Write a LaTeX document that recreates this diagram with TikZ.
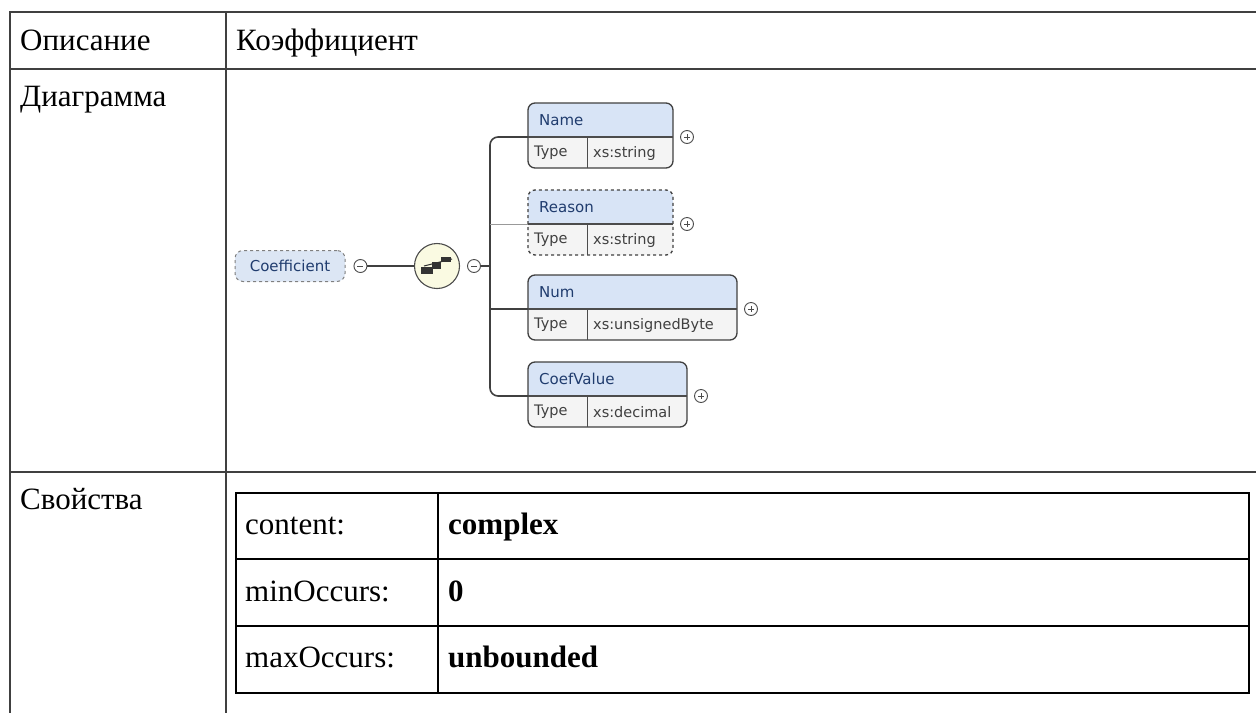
\documentclass[tikz,border=0pt]{standalone}
\usepackage{fontspec}
\setmainfont{Liberation Serif}
\newfontfamily\diagfont{DejaVu Sans}
\usetikzlibrary{positioning}

\definecolor{xsdblue}{HTML}{203C6E}
\definecolor{hdrblue}{HTML}{D8E4F6}
\definecolor{rootblue}{HTML}{DCE6F4}
\definecolor{rowgray}{HTML}{F4F4F4}
\definecolor{seqyellow}{HTML}{FAFAE2}

\begin{document}
\begin{tikzpicture}
[x=1pt,y=-1pt,%
  tblline/.style={line width=2pt,draw=black!75},%
  innerline/.style={line width=2pt,draw=black},%
  celltext/.style={anchor=base west,inner sep=0pt,font=\fontsize{31}{36}\selectfont},%
  cellbold/.style={anchor=base west,inner sep=0pt,font=\fontsize{31}{36}\selectfont\bfseries},%
  boxframe/.style={draw=black!75,line width=1.3pt,rounded corners=7pt},%
  hdrtext/.style={anchor=west,inner sep=0pt,text=xsdblue,font=\diagfont\fontsize{15}{17}\selectfont},%
  typetext/.style={anchor=west,inner sep=0pt,text=black!75,font=\diagfont\fontsize{14.5}{16}\selectfont},%
  btn/.style={circle,draw=black!70,line width=0.9pt,fill=white,minimum size=13pt,inner sep=0pt},%
  collapsebtn/.style={btn,path picture={\draw[black!70,line width=0.9pt]
    ([xshift=-3pt]path picture bounding box.center) -- ([xshift=3pt]path picture bounding box.center);}},%
  expandbtn/.style={btn,path picture={\draw[black!70,line width=0.9pt]
    ([xshift=-3pt]path picture bounding box.center) -- ([xshift=3pt]path picture bounding box.center)
    ([yshift=-3pt]path picture bounding box.center) -- ([yshift=3pt]path picture bounding box.center);}},%
  conn/.style={draw=black!75,line width=1.6pt}]
\useasboundingbox (0,0) rectangle (1256,713);
% outer table
\draw[tblline] (9,12) -- (1256,12);
\draw[tblline] (10,12) -- (10,713);
\draw[tblline] (226,12) -- (226,713);
\draw[tblline] (10,69) -- (1256,69);
\draw[tblline] (10,472) -- (1256,472);
\node[celltext] (lbldesc) at (20,50) {Описание};
\node[celltext] (valdesc) at (236,50) {Коэффициент};
\node[celltext] (lbldiag) at (20,106) {Диаграмма};
\node[celltext] (lblprop) at (20,509) {Свойства};
% properties
\draw[innerline] (236,493) rectangle (1249,693);
\draw[innerline] (236,559) -- (1249,559);
\draw[innerline] (236,626) -- (1249,626);
\draw[innerline] (438,493) -- (438,693);
\node[celltext] (kcontent) at (245,534) {content:};
\node[cellbold] (vcontent) at (448,534) {complex};
\node[celltext] (kminocc) at (245,601) {minOccurs:};
\node[cellbold] (vminocc) at (448,601) {0};
\node[celltext] (kmaxocc) at (245,667) {maxOccurs:};
\node[cellbold] (vmaxocc) at (448,667) {unbounded};
% diagram
\node[draw=black!50,dashed,line width=1pt,fill=rootblue,rounded corners=8pt,
  minimum width=110pt,minimum height=31pt,inner sep=0pt,text=xsdblue,
  font=\diagfont\fontsize{15}{17}\selectfont] (coeff) at (290,266) {Coefficient};
\node[collapsebtn,right=8pt of coeff] (coeffbtn) {};
\node[circle,draw=black!70,line width=1.1pt,fill=seqyellow,minimum size=45pt,inner sep=0pt] (seq) at (437,266) {};
\node[collapsebtn] (seqbtn) at (474,266) {};
\fill[black!80] (421,267) rectangle (433,274);
\fill[black!80] (432,262) rectangle (441,269);
\fill[black!80] (441,257) rectangle (451,262);
\draw[black!80,line width=1pt] (424,266) -- (452,259);
\foreach \n/\lbl/\typ/\top/\rgt/\frm in {name/Name/xs:string/103/673/solid,
    reason/Reason/xs:string/190/673/dashed,
    num/Num/xs:unsignedByte/275/737/solid,
    coef/CoefValue/xs:decimal/362/687/solid}
{
  \fill[rowgray,rounded corners=7pt] (528,\top) rectangle (\rgt,{\top+65});
  \begin{scope}
    \clip[rounded corners=7pt] (528,\top) rectangle (\rgt,{\top+65});
    \fill[hdrblue] (528,\top) rectangle (\rgt,{\top+34});
  \end{scope}
  \draw[boxframe,\frm] (528,\top) rectangle (\rgt,{\top+65});
  \draw[black!70,line width=1.2pt] (528,{\top+34}) -- (\rgt,{\top+34});
  \draw[black!70,line width=1pt] (587,{\top+34}) -- (587,{\top+65});
  \node[hdrtext] (\n) at (539,{\top+17}) {\lbl};
  \node[typetext] (\n-type) at (534,{\top+50}) {Type};
  \node[typetext] (\n-val) at (593,{\top+50}) {\typ};
  \coordinate (\n-in) at (528,{\top+34});
  \node[expandbtn] (\n-btn) at ({\rgt+14},{\top+34}) {};
}
\coordinate (bus) at (490,266);
\draw[conn,rounded corners=8pt] (name-in) -| (bus) |- (coef-in);
\draw[conn] (coeffbtn) -- (seq);
\draw[conn] (seqbtn) -- (bus);
\draw[draw=black!40,line width=0.9pt] (bus |- reason-in) -- (reason-in);
\draw[conn] (bus |- num-in) -- (num-in);
\end{tikzpicture}
\end{document}
